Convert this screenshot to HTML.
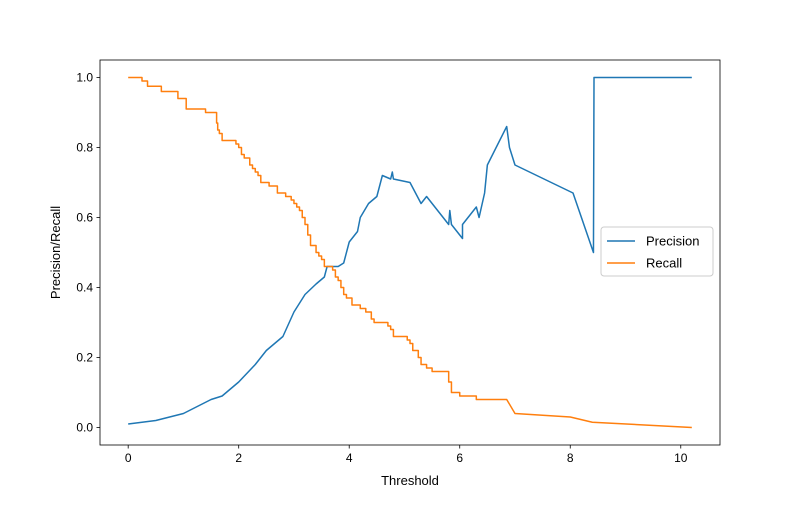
<!DOCTYPE html>
<html><head><meta charset="utf-8"><style>
body{margin:0;background:#fff}
svg{font-family:"Liberation Sans","DejaVu Sans",sans-serif}
</style></head><body>
<svg id="chart" width="800" height="500">
<rect width="800" height="500" fill="#fff"/>
<g id="plot"></g>
</svg>
<script>
const precX=[0,0.5,1,1.5,1.7,2,2.3,2.5,2.8,3,3.2,3.4,3.55,3.6,3.7,3.8,3.9,4,4.15,4.2,4.35,4.5,4.6,4.75,4.78,4.8,5.1,5.2,5.3,5.4,5.8,5.82,5.85,6.05,6.05,6.3,6.35,6.45,6.5,6.85,6.9,7,8.05,8.42,8.43,10.2];
const precY=[0.01,0.02,0.04,0.08,0.09,0.13,0.18,0.22,0.26,0.33,0.38,0.41,0.43,0.46,0.46,0.46,0.47,0.53,0.56,0.6,0.64,0.66,0.72,0.71,0.73,0.71,0.70,0.67,0.64,0.66,0.58,0.62,0.58,0.54,0.58,0.63,0.60,0.67,0.75,0.86,0.80,0.75,0.67,0.50,1.0,1.0];
const recX=[0,0.25,0.35,0.6,0.9,1.05,1.4,1.6,1.62,1.65,1.7,1.95,2.0,2.05,2.1,2.2,2.25,2.3,2.35,2.4,2.55,2.7,2.85,2.95,3.0,3.05,3.1,3.15,3.2,3.25,3.3,3.4,3.45,3.5,3.55,3.7,3.75,3.8,3.85,3.9,3.95,4.05,4.2,4.3,4.4,4.45,4.7,4.75,4.8,5.05,5.1,5.15,5.25,5.3,5.4,5.5,5.8,5.85,6,6.3,6.85,7,8,8.4,10.2];
const recY=[1,0.99,0.975,0.96,0.94,0.91,0.90,0.87,0.85,0.84,0.82,0.81,0.80,0.78,0.77,0.75,0.74,0.73,0.72,0.70,0.69,0.67,0.66,0.65,0.64,0.63,0.62,0.60,0.58,0.55,0.52,0.50,0.49,0.48,0.46,0.45,0.43,0.42,0.40,0.38,0.37,0.35,0.34,0.33,0.31,0.30,0.29,0.28,0.26,0.25,0.24,0.22,0.20,0.18,0.17,0.16,0.13,0.10,0.09,0.08,0.08,0.04,0.03,0.015,0];
const xTicks=[0,2,4,6,8,10];
const yTicks=[0,0.2,0.4,0.6,0.8,1.0];
const L=100,R=720,T=60,B=445;
const xmin=-0.51,xmax=10.71,ymin=-0.05,ymax=1.05;
const sx=v=>L+(v-xmin)/(xmax-xmin)*(R-L);
const sy=v=>B-(v-ymin)/(ymax-ymin)*(B-T);
const g=document.getElementById('plot');
const NS='http://www.w3.org/2000/svg';
function mk(tag,attrs,parent){const e=document.createElementNS(NS,tag);for(const k in attrs)e.setAttribute(k,attrs[k]);(parent||g).appendChild(e);return e;}
function line(pts,color,name){
  const p=mk('polyline',{points:pts.map(q=>sx(q[0]).toFixed(2)+','+sy(q[1]).toFixed(2)).join(' '),fill:'none',stroke:color,'stroke-width':1.5,'stroke-linejoin':'round'});
  
  
}
line(precX.map((x,i)=>[x,precY[i]]),'#1f77b4','precision-line');
const recPts=[];
recX.forEach((x,i)=>{ if(i>0 && x<6.8) recPts.push([x,recY[i-1]]); recPts.push([x,recY[i]]); });
line(recPts,'#ff7f0e','recall-line');
const frame=mk('rect',{x:L,y:T,width:R-L,height:B-T,fill:'none',stroke:'#000','stroke-width':0.8});


xTicks.forEach(v=>{
  mk('line',{x1:sx(v),x2:sx(v),y1:B,y2:B+3.5,stroke:'#000','stroke-width':0.8});
  const t=mk('text',{x:sx(v),y:B+17,'text-anchor':'middle','font-size':12});
  t.textContent=v;
  
  
});
yTicks.forEach(v=>{
  mk('line',{x1:L-3.5,x2:L,y1:sy(v),y2:sy(v),stroke:'#000','stroke-width':0.8});
  const t=mk('text',{x:L-7,y:sy(v)+4,'text-anchor':'end','font-size':12});
  t.textContent=v.toFixed(1);
  
  
});
const xt=mk('text',{x:(L+R)/2,y:485,'text-anchor':'middle','font-size':13});
xt.textContent='Threshold';


const yt=mk('text',{x:0,y:0,'text-anchor':'middle','font-size':13,transform:'translate(60,'+((T+B)/2)+') rotate(-90)'});
yt.textContent='Precision/Recall';


const lg=mk('g',{});


mk('rect',{x:601,y:227,width:112,height:49,rx:3,fill:'#fff',stroke:'#ccc','stroke-width':1},lg);
[['Precision','#1f77b4',241],['Recall','#ff7f0e',263]].forEach(([n,c,y])=>{
  mk('line',{x1:607,x2:635,y1:y,y2:y,stroke:c,'stroke-width':1.5},lg);
  const t=mk('text',{x:646,y:y+4.5,'font-size':13},lg);
  t.textContent=n;
  
  
});
</script>
</body></html>
